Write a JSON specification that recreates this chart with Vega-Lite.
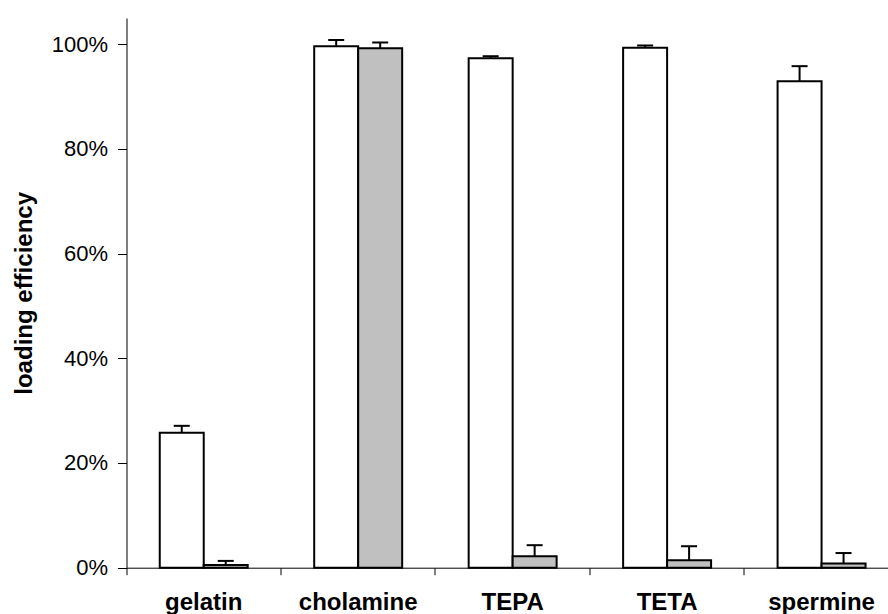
{
  "$schema": "https://vega.github.io/schema/vega-lite/v6.json",
  "width": 761.5,
  "height": 549.7,
  "autosize": "none",
  "padding": {"left": 126.5, "top": 18, "right": 0, "bottom": 46.3},
  "config": {
    "view": {"stroke": null},
    "font": "Liberation Sans",
    "axis": {
      "domainColor": "black",
      "tickColor": "black",
      "labelColor": "black",
      "titleColor": "black",
      "grid": false
    }
  },
  "data": {
    "values": [
      {"compound": "gelatin", "set": "1", "value": 0.258, "upper": 0.271},
      {"compound": "gelatin", "set": "2", "value": 0.005, "upper": 0.013},
      {"compound": "cholamine", "set": "1", "value": 0.996, "upper": 1.008},
      {"compound": "cholamine", "set": "2", "value": 0.992, "upper": 1.003},
      {"compound": "TEPA", "set": "1", "value": 0.973, "upper": 0.977},
      {"compound": "TEPA", "set": "2", "value": 0.022, "upper": 0.043},
      {"compound": "TETA", "set": "1", "value": 0.993, "upper": 0.9975},
      {"compound": "TETA", "set": "2", "value": 0.014, "upper": 0.041},
      {"compound": "spermine", "set": "1", "value": 0.929, "upper": 0.958},
      {"compound": "spermine", "set": "2", "value": 0.008, "upper": 0.028}
    ]
  },
  "encoding": {
    "x": {
      "field": "compound",
      "type": "nominal",
      "sort": ["gelatin", "cholamine", "TEPA", "TETA", "spermine"],
      "scale": {"range": [0, 772.3], "paddingInner": 0, "paddingOuter": 0},
      "axis": {
        "title": null,
        "bandPosition": 0,
        "labelAngle": 0,
        "tickSize": 7,
        "labelFontSize": 24,
        "labelFontWeight": "bold",
        "labelPadding": 16
      }
    },
    "xOffset": {
      "field": "set",
      "type": "nominal",
      "scale": {"paddingInner": 0, "paddingOuter": 0.756}
    }
  },
  "layer": [
    {
      "mark": {"type": "bar", "stroke": "black", "strokeWidth": 2},
      "encoding": {
        "y": {
          "field": "value",
          "type": "quantitative",
          "scale": {"domain": [0, 1.05], "nice": false},
          "axis": {
            "values": [0, 0.2, 0.4, 0.6, 0.8, 1.0],
            "format": "%",
            "tickSize": 9,
            "labelFontSize": 22,
            "labelPadding": 10,
            "title": "loading efficiency",
            "titleFontSize": 24,
            "titleFontWeight": "bold",
            "titlePadding": 15
          }
        },
        "fill": {
          "field": "set",
          "type": "nominal",
          "scale": {"range": ["white", "#c0c0c0"]},
          "legend": null
        }
      }
    },
    {
      "mark": {"type": "rule", "strokeWidth": 2, "color": "black"},
      "encoding": {
        "y": {"field": "value", "type": "quantitative"},
        "y2": {"field": "upper"}
      }
    },
    {
      "mark": {"type": "tick", "orient": "horizontal", "size": 16, "thickness": 2, "color": "black", "opacity": 1},
      "encoding": {
        "y": {"field": "upper", "type": "quantitative"}
      }
    }
  ]
}
